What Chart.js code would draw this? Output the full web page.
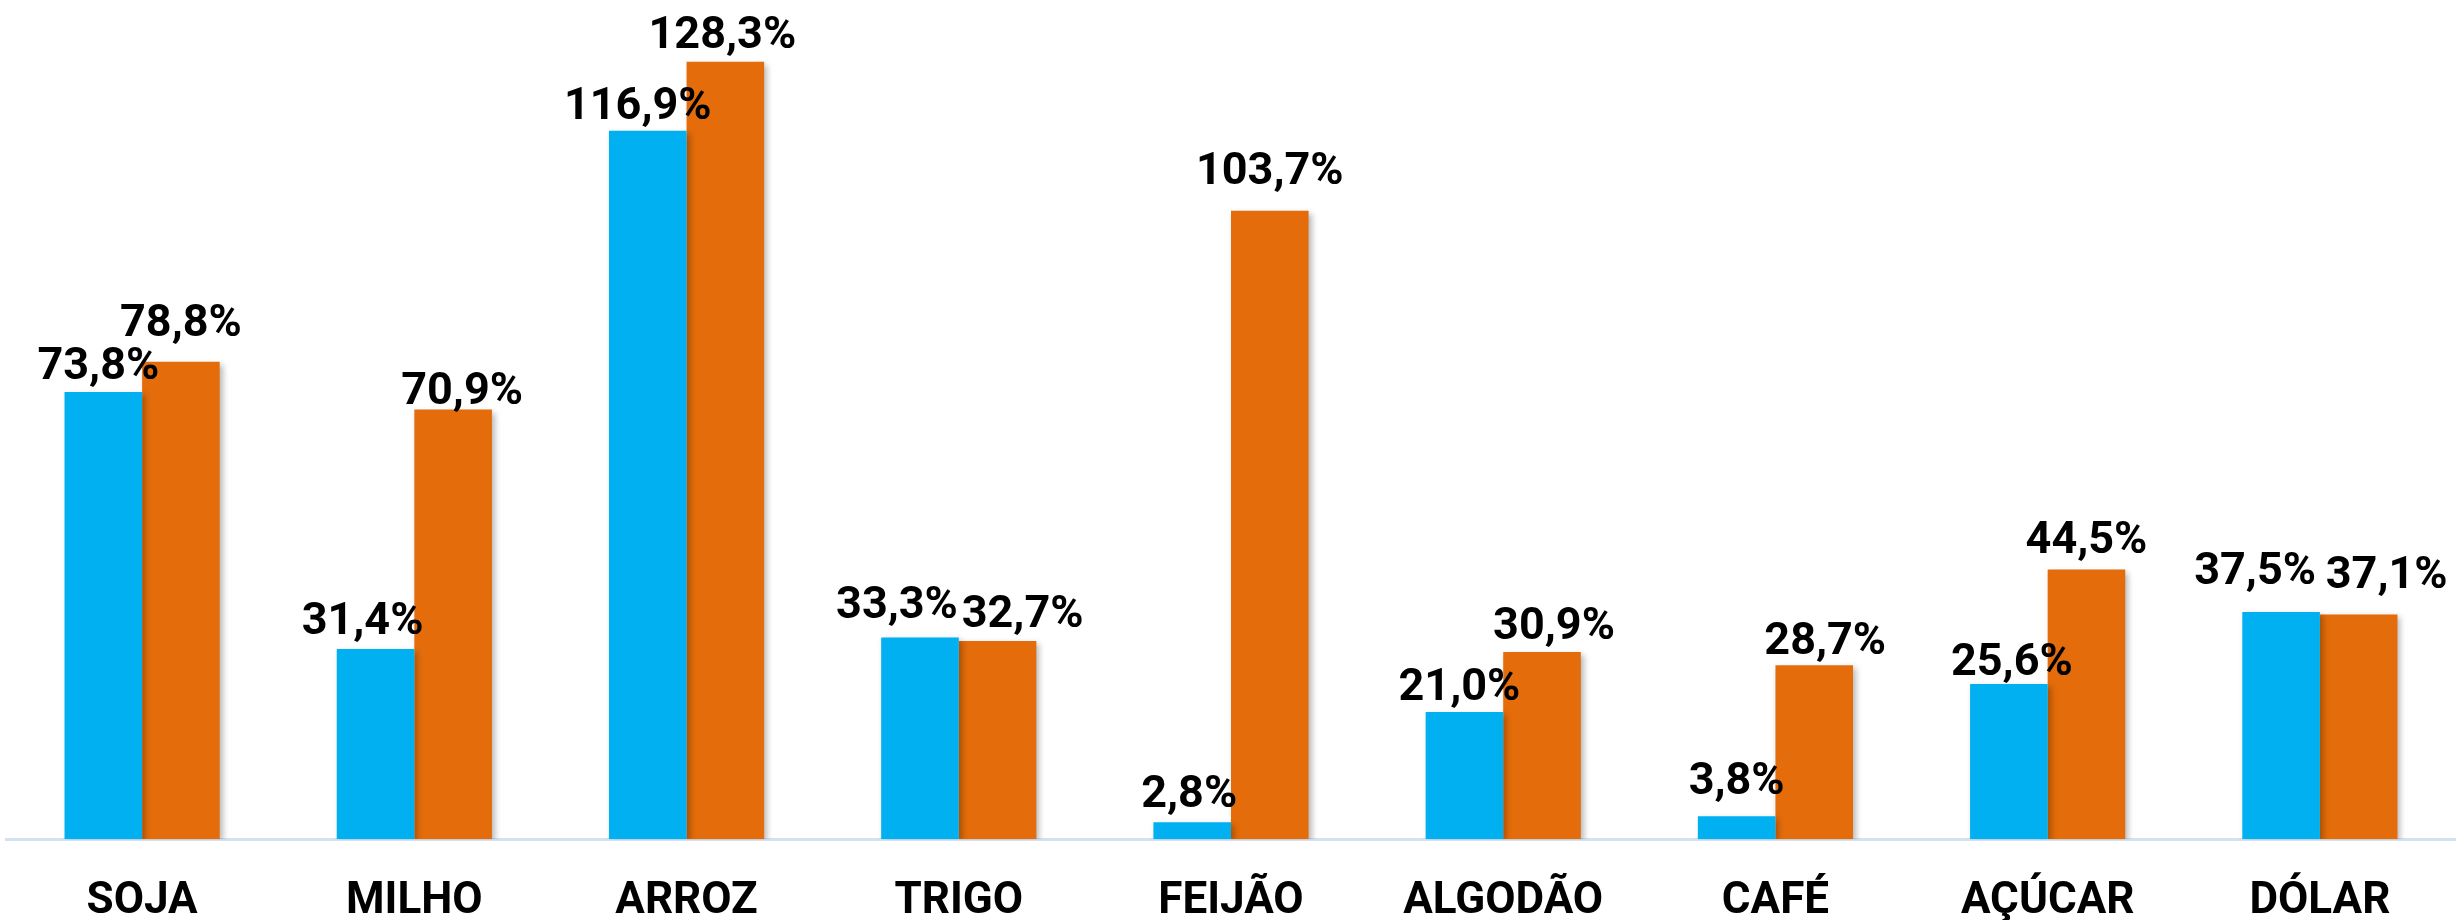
<!DOCTYPE html>
<html>
<head>
<meta charset="utf-8">
<script src="https://cdn.jsdelivr.net/npm/chart.js@4.4.0/dist/chart.umd.min.js"></script>
<style>
    html, body { margin: 0; padding: 0; background: #fff; overflow: hidden; }
    #wrap { width: 2456px; height: 920px; overflow: hidden; }
    #box { width: 2456px; height: 964px; }
</style>
</head>
<body>
<div id="wrap"><div id="box"><canvas id="chart"></canvas></div></div>
<script>
const categories = ['SOJA', 'MILHO', 'ARROZ', 'TRIGO', 'FEIJÃO', 'ALGODÃO', 'CAFÉ', 'AÇÚCAR', 'DÓLAR'];
const seriesBlue = [73.8, 31.4, 116.9, 33.3, 2.8, 21.0, 3.8, 25.6, 37.5];
const seriesOrange = [78.8, 70.9, 128.3, 32.7, 103.7, 30.9, 28.7, 44.5, 37.1];

// hand-placed data labels in the original: [dx, gap above bar]
const labelNudgeBlue = [[-5, 13], [-13, 15], [-10, 12], [-23, 19], [-3, 15], [-5, 12], [0, 22], [3, 9], [-26, 28]];
const labelNudgeOrange = [[0, 26], [9, 6], [-3, 14], [25, 14], [0, 27], [12, 13], [11, 11], [0, 17], [28, 26]];

const barShadow = {
    id: 'barShadow',
    beforeDatasetsDraw(chart) {
        const ctx = chart.ctx;
        ctx.save();
        ctx.shadowColor = 'rgba(0, 0, 0, 0.28)';
        ctx.shadowBlur = 6;
        ctx.shadowOffsetX = 3;
        ctx.shadowOffsetY = 3;
    },
    afterDatasetsDraw(chart) {
        chart.ctx.restore();
    }
};

const valueLabels = {
    id: 'valueLabels',
    afterDatasetsDraw(chart) {
        const ctx = chart.ctx;
        const nudges = [labelNudgeBlue, labelNudgeOrange];
        ctx.save();
        ctx.font = 'bold 45px Roboto';
        ctx.fillStyle = '#000';
        ctx.textAlign = 'center';
        ctx.textBaseline = 'alphabetic';
        chart.data.datasets.forEach((ds, i) => {
            chart.getDatasetMeta(i).data.forEach((bar, j) => {
                const txt = ds.data[j].toFixed(1).replace('.', ',') + '%';
                const n = nudges[i][j];
                ctx.fillText(txt, bar.x + n[0], bar.y - n[1]);
            });
        });
        ctx.restore();
    }
};

new Chart(document.getElementById('chart'), {
    type: 'bar',
    data: {
        labels: categories,
        datasets: [
            { data: seriesBlue, backgroundColor: '#00B0F0', categoryPercentage: 0.57, barPercentage: 1 },
            { data: seriesOrange, backgroundColor: '#E46C0A', categoryPercentage: 0.57, barPercentage: 1 }
        ]
    },
    options: {
        responsive: true,
        maintainAspectRatio: false,
        animation: false,
        layout: { padding: { left: 6, right: 0, top: 3, bottom: 0 } },
        plugins: {
            legend: { display: false },
            tooltip: { enabled: false }
        },
        scales: {
            x: {
                grid: { display: false, drawTicks: false },
                border: { display: true, color: '#d3e2f2', width: 3 },
                ticks: {
                    color: '#000',
                    padding: 36,
                    font: { family: 'Roboto', size: 44, weight: 'bold' }
                }
            },
            y: {
                display: false,
                min: 0,
                max: 138
            }
        }
    },
    plugins: [barShadow, valueLabels]
});
</script>
</body>
</html>
